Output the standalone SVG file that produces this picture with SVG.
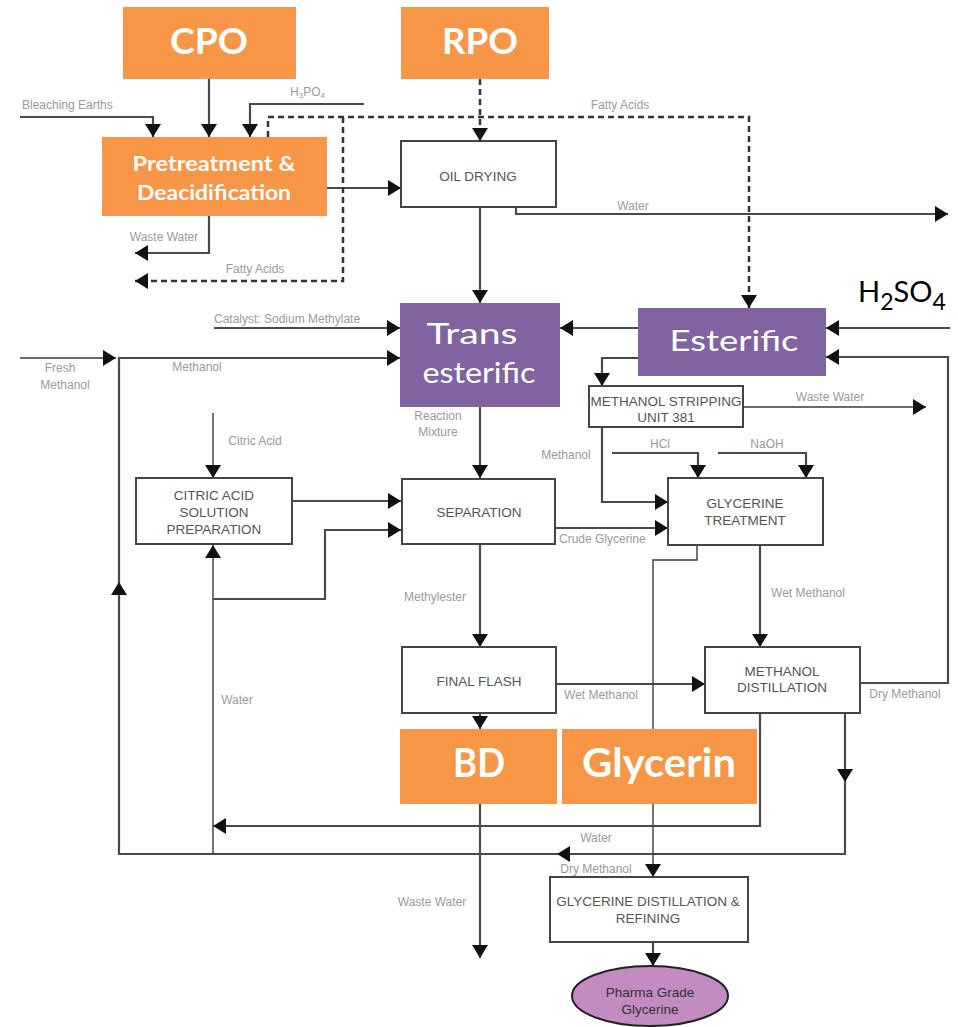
<svg xmlns="http://www.w3.org/2000/svg" width="958" height="1027" viewBox="0 0 958 1027">
<style>
.ln{fill:none;stroke:#4a4a4a;stroke-width:2.2}
.th{fill:none;stroke:#3a3a3a;stroke-width:1.4}
.ds{fill:none;stroke:#333;stroke-width:2.5;stroke-dasharray:6,4}
.box{fill:#fff;stroke:#444;stroke-width:2}
.or{fill:#F79646}
.pu{fill:#8064A2}
.bt{font-family:"Liberation Sans",Arial,sans-serif;font-size:13.5px;fill:#555;text-anchor:middle}
.lb{font-family:"Liberation Sans",Arial,sans-serif;font-size:12px;fill:#9a9a9a}
.c{text-anchor:middle}
.big{font-family:Lato,"Open Sans",sans-serif;font-weight:bold;fill:#fff;text-anchor:middle}
.pt{font-family:Lato,"Open Sans",sans-serif;fill:#fff;text-anchor:middle}
</style>
<defs>
<marker id="ah" markerUnits="userSpaceOnUse" viewBox="0 0 13 16" markerWidth="13" markerHeight="16" refX="13" refY="8" orient="auto">
<path d="M0,0 L13,8 L0,16 z" fill="#111"/>
</marker>
</defs>
<rect width="958" height="1027" fill="#fff"/>

<g id="connectors">
<path class="ln" d="M20,117 H153 V137" marker-end="url(#ah)"/>
<path class="ln" d="M209,79 V137" marker-end="url(#ah)"/>
<path class="ln" d="M364,104 H250 V137" marker-end="url(#ah)"/>
<path class="ln" d="M209,216 V253 H135" marker-end="url(#ah)"/>
<path class="ln" d="M327,188 H401" marker-end="url(#ah)"/>
<path class="ds" d="M480,79 V141" marker-end="url(#ah)"/>
<path class="ds" d="M268,137 V117 H749 V308" marker-end="url(#ah)"/>
<path class="ds" d="M343,117 V281 H135" marker-end="url(#ah)"/>
<path class="ln" d="M480,207 V303" marker-end="url(#ah)"/>
<path class="ln" d="M516,207 V214 H948" marker-end="url(#ah)"/>
<path class="ln" d="M214,328 H400" marker-end="url(#ah)"/>
<path class="th" d="M20,358 H116" marker-end="url(#ah)"/>
<path class="ln" d="M119,582 V358 H400" marker-end="url(#ah)"/>
<path class="ln" d="M845,713 V782" marker-end="url(#ah)"/>
<path class="ln" d="M845,782 V854 H557" marker-end="url(#ah)"/>
<path class="ln" d="M557,854 H119 V582" marker-end="url(#ah)"/>
<path class="ln" d="M638,328 H560" marker-end="url(#ah)"/>
<path class="ln" d="M950,328 H826" marker-end="url(#ah)"/>
<path class="ln" d="M860,683 H948 V357 H826" marker-end="url(#ah)"/>
<path class="ln" d="M638,358 H602 V386" marker-end="url(#ah)"/>
<path class="th" d="M743,407 H926" marker-end="url(#ah)"/>
<path class="ln" d="M602,427 V502 H668" marker-end="url(#ah)"/>
<path class="ln" d="M612,453 H698 V478" marker-end="url(#ah)"/>
<path class="ln" d="M718,453 H806 V478" marker-end="url(#ah)"/>
<path class="th" d="M213,413 V478" marker-end="url(#ah)"/>
<path class="ln" d="M292,501 H401" marker-end="url(#ah)"/>
<path class="th" d="M213,854 V545" marker-end="url(#ah)"/>
<path class="ln" d="M213,599 H325 V530 H401" marker-end="url(#ah)"/>
<path class="ln" d="M480,407 V478" marker-end="url(#ah)"/>
<path class="ln" d="M555,528 H668" marker-end="url(#ah)"/>
<path class="ln" d="M480,544 V647" marker-end="url(#ah)"/>
<path class="th" d="M697,545 V560 H653 V877" marker-end="url(#ah)"/>
<path class="ln" d="M760,545 V647" marker-end="url(#ah)"/>
<path class="ln" d="M556,684 H705" marker-end="url(#ah)"/>
<path class="ln" d="M480,713 V729" marker-end="url(#ah)"/>
<path class="ln" d="M480,804 V958" marker-end="url(#ah)"/>
<path class="ln" d="M760,713 V826 H213" marker-end="url(#ah)"/>
<path class="ln" d="M653,942 V966" marker-end="url(#ah)"/>
</g>

<g id="labels">
<text class="lb" x="22" y="109">Bleaching Earths</text>
<text class="lb" x="290" y="96" font-size="11">H<tspan font-size="8" dy="2">3</tspan><tspan dy="-2">PO</tspan><tspan font-size="8" dy="2">4</tspan></text>
<text class="lb c" x="620" y="109">Fatty Acids</text>
<text class="lb c" x="633" y="210">Water</text>
<text class="lb c" x="164" y="241">Waste Water</text>
<text class="lb c" x="255" y="273">Fatty Acids</text>
<text class="lb" x="214" y="323">Catalyst: Sodium Methylate</text>
<text class="lb c" x="60" y="372">Fresh</text>
<text class="lb c" x="65" y="389">Methanol</text>
<text class="lb c" x="197" y="371">Methanol</text>
<text class="lb c" x="438" y="420">Reaction</text>
<text class="lb c" x="438" y="436">Mixture</text>
<text class="lb c" x="830" y="401">Waste Water</text>
<text class="lb c" x="566" y="459">Methanol</text>
<text class="lb c" x="660" y="448">HCl</text>
<text class="lb c" x="767" y="448">NaOH</text>
<text class="lb c" x="255" y="445">Citric Acid</text>
<text class="lb" x="559" y="543">Crude Glycerine</text>
<text class="lb c" x="435" y="601">Methylester</text>
<text class="lb c" x="808" y="597">Wet Methanol</text>
<text class="lb c" x="601" y="699">Wet Methanol</text>
<text class="lb c" x="905" y="698">Dry Methanol</text>
<text class="lb c" x="237" y="704">Water</text>
<text class="lb c" x="596" y="842">Water</text>
<text class="lb c" x="596" y="873">Dry Methanol</text>
<text class="lb c" x="432" y="906">Waste Water</text>
<text x="858" y="302" font-family="Lato,'Open Sans',sans-serif" font-size="29" fill="#000">H<tspan font-size="23" dy="8">2</tspan><tspan dy="-8">SO</tspan><tspan font-size="23" dy="8">4</tspan></text>
</g>

<g id="cpo"><rect class="or" x="123" y="7" width="173" height="72"/><text class="big" x="209" y="54" font-size="36" textLength="78" lengthAdjust="spacingAndGlyphs">CPO</text></g>
<g id="rpo"><rect class="or" x="401" y="7" width="148" height="72"/><text class="big" x="480" y="54" font-size="36" textLength="76" lengthAdjust="spacingAndGlyphs">RPO</text></g>
<g id="pretreatment"><rect class="or" x="102" y="137" width="225" height="79"/>
<text class="big" x="214" y="171" font-size="21" textLength="163" lengthAdjust="spacingAndGlyphs">Pretreatment &amp;</text>
<text class="big" x="214" y="200" font-size="21" textLength="154" lengthAdjust="spacingAndGlyphs">Deacidification</text></g>
<g id="oil-drying"><rect class="box" x="401" y="141" width="155" height="66"/><text class="bt" x="478" y="181">OIL DRYING</text></g>
<g id="trans-esterific"><rect class="pu" x="400" y="303" width="160" height="104"/>
<text class="pt" x="472" y="344" font-size="29" textLength="91" lengthAdjust="spacingAndGlyphs">Trans</text>
<text class="pt" x="479" y="383" font-size="29" textLength="113" lengthAdjust="spacingAndGlyphs">esterific</text></g>
<g id="esterific"><rect class="pu" x="638" y="308" width="188" height="68"/>
<text class="pt" x="734" y="351" font-size="28" textLength="129" lengthAdjust="spacingAndGlyphs">Esterific</text></g>
<g id="methanol-stripping"><rect class="box" x="589" y="386" width="154" height="41"/>
<text class="bt" x="666" y="406" font-size="11.5">METHANOL STRIPPING</text>
<text class="bt" x="666" y="422" font-size="11.5">UNIT 381</text></g>
<g id="citric"><rect class="box" x="136" y="478" width="156" height="66"/>
<text class="bt" x="214" y="500">CITRIC ACID</text>
<text class="bt" x="214" y="517">SOLUTION</text>
<text class="bt" x="214" y="534">PREPARATION</text></g>
<g id="separation"><rect class="box" x="402" y="479" width="153" height="65"/><text class="bt" x="479" y="517">SEPARATION</text></g>
<g id="glycerine-treatment"><rect class="box" x="668" y="478" width="155" height="67"/>
<text class="bt" x="745" y="508">GLYCERINE</text>
<text class="bt" x="745" y="525">TREATMENT</text></g>
<g id="final-flash"><rect class="box" x="402" y="647" width="154" height="66"/><text class="bt" x="479" y="686">FINAL FLASH</text></g>
<g id="methanol-distillation"><rect class="box" x="705" y="647" width="155" height="66"/>
<text class="bt" x="782" y="676">METHANOL</text>
<text class="bt" x="782" y="692">DISTILLATION</text></g>
<g id="bd"><rect class="or" x="400" y="729" width="157" height="75"/><text class="big" x="479" y="777" font-size="40" textLength="52" lengthAdjust="spacingAndGlyphs">BD</text></g>
<g id="glycerin"><rect class="or" x="562" y="729" width="195" height="75"/><text class="big" x="659" y="777" font-size="40" textLength="154" lengthAdjust="spacingAndGlyphs">Glycerin</text></g>
<g id="glycerine-distillation"><rect class="box" x="550" y="877" width="198" height="65"/>
<text class="bt" x="648" y="906">GLYCERINE DISTILLATION &amp;</text>
<text class="bt" x="648" y="923">REFINING</text></g>
<g id="pharma"><ellipse cx="650" cy="996" rx="78" ry="30" fill="#C28BC2" stroke="#222" stroke-width="2"/>
<text class="bt" x="650" y="997" style="fill:#333">Pharma Grade</text>
<text class="bt" x="650" y="1014" style="fill:#333">Glycerine</text></g>
</svg>
